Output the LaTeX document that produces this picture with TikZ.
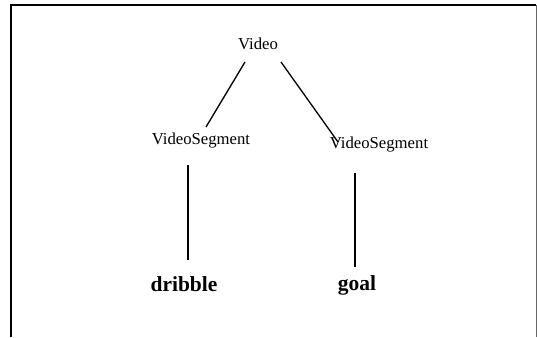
\documentclass[tikz,border=0pt]{standalone}
\usepackage{fontspec}
\setmainfont{Liberation Serif}
\begin{document}
\begin{tikzpicture}[x=1pt,y=-1pt,
  lbl/.style={inner sep=0pt,font=\fontsize{16.7}{18}\selectfont},
  leaf/.style={inner sep=0pt,font=\fontsize{21.5}{23}\selectfont\bfseries},
  edge/.style={line width=1.3pt}]
\useasboundingbox (0,0) rectangle (537,337);
\fill[white] (0,0) rectangle (537,337);
\draw[line width=2pt] (11,337) -- (11,5) -- (536,5);
\draw[line width=1pt, black!60] (536,5) -- (536,337);
\node[lbl] (v) at (258,44) {Video};
\node[lbl] (s1) at (201,141) {VideoSegment};
\node[lbl] (s2) at (379,145) {VideoSegment};
\node[leaf] (d) at (184,284) {dribble};
\node[leaf] (g) at (357,285) {goal};
\coordinate (v1) at (245,62);
\coordinate (v2) at (281,62);
\coordinate (a1) at (206,127);
\coordinate (a2) at (338,142);
\coordinate (b1) at (188,165);
\coordinate (c1) at (188,260);
\coordinate (b2) at (355,173);
\coordinate (c2) at (355,267);
\draw[edge] (v1) -- (a1);
\draw[edge] (v2) -- (a2);
\draw[edge] (b1) -- (c1);
\draw[edge] (b2) -- (c2);
\end{tikzpicture}
\end{document}
